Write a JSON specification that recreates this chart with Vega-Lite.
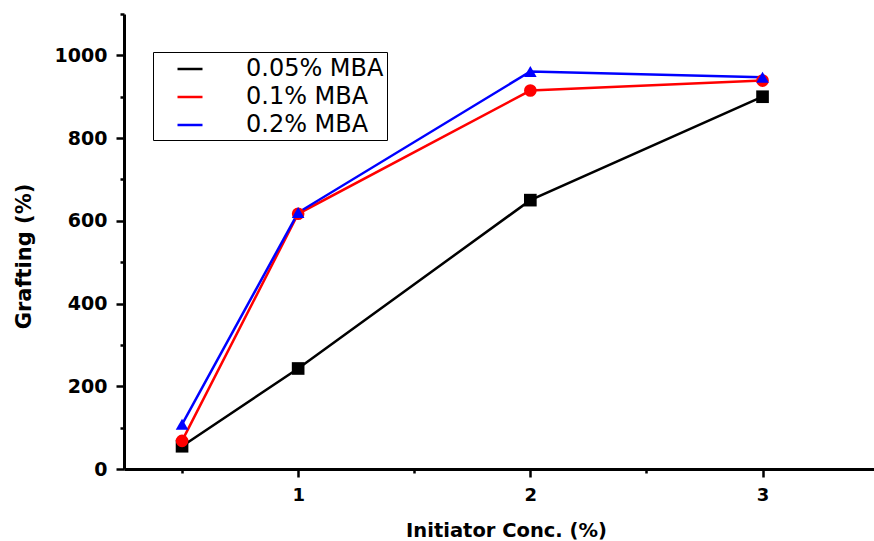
{
  "$schema": "https://vega.github.io/schema/vega-lite/v6.json",
  "width": 750,
  "height": 455,
  "autosize": {"type": "none"},
  "padding": {"left": 124, "top": 14, "right": 0, "bottom": 72},
  "background": "white",
  "config": {"view": {"stroke": null}, "font": "DejaVu Sans"},
  "data": {
    "values": [
      {"series": "0.05% MBA", "conc": 0.5, "grafting": 55},
      {"series": "0.05% MBA", "conc": 1, "grafting": 243},
      {"series": "0.05% MBA", "conc": 2, "grafting": 650},
      {"series": "0.05% MBA", "conc": 3, "grafting": 900},
      {"series": "0.1% MBA", "conc": 0.5, "grafting": 68},
      {"series": "0.1% MBA", "conc": 1, "grafting": 617},
      {"series": "0.1% MBA", "conc": 2, "grafting": 915},
      {"series": "0.1% MBA", "conc": 3, "grafting": 939},
      {"series": "0.2% MBA", "conc": 0.5, "grafting": 108},
      {"series": "0.2% MBA", "conc": 1, "grafting": 620},
      {"series": "0.2% MBA", "conc": 2, "grafting": 961},
      {"series": "0.2% MBA", "conc": 3, "grafting": 947}
    ]
  },
  "encoding": {
    "x": {
      "field": "conc",
      "type": "quantitative",
      "scale": {"domain": [0.25, 3.48], "nice": false, "zero": false},
      "axis": {
        "values": [0.5, 1, 1.5, 2, 2.5, 3],
        "labelExpr": "datum.value % 1 === 0 ? format(datum.value, 'd') : ''",
        "tickSize": {"condition": {"test": "datum.value % 1 === 0", "value": 8}, "value": 4},
        "tickWidth": 2.5,
        "tickColor": "black",
        "domainColor": "black",
        "domainWidth": 3,
        "grid": false,
        "labelFont": "DejaVu Sans",
        "labelFontWeight": "bold",
        "labelFontSize": 18,
        "labelColor": "black",
        "labelPadding": 9,
        "title": "Initiator Conc. (%)",
        "titleFont": "DejaVu Sans",
        "titleFontWeight": "bold",
        "titleFontSize": 19.5,
        "titleColor": "black",
        "titleX": 382,
        "titleY": 67,
        "titleAlign": "center",
        "titleBaseline": "alphabetic"
      }
    },
    "y": {
      "field": "grafting",
      "type": "quantitative",
      "scale": {"domain": [0, 1100], "nice": false},
      "axis": {
        "values": [0, 100, 200, 300, 400, 500, 600, 700, 800, 900, 1000, 1100],
        "labelExpr": "datum.value % 200 === 0 && datum.value <= 1000 ? format(datum.value, 'd') : ''",
        "tickSize": {"condition": {"test": "datum.value % 200 === 0 && datum.value <= 1000", "value": 8}, "value": 4},
        "tickWidth": 2.5,
        "tickColor": "black",
        "domainColor": "black",
        "domainWidth": 3,
        "grid": false,
        "labelFont": "DejaVu Sans",
        "labelFontWeight": "bold",
        "labelFontSize": 19,
        "labelColor": "black",
        "labelPadding": 9,
        "title": "Grafting (%)",
        "titleFont": "DejaVu Sans",
        "titleFontWeight": "bold",
        "titleFontSize": 21,
        "titleColor": "black",
        "titleX": -100,
        "titleY": 242,
        "titleAngle": -90,
        "titleAlign": "center",
        "titleBaseline": "middle"
      }
    }
  },
  "layer": [
    {
      "mark": {"type": "line", "strokeWidth": 2.5},
      "encoding": {
        "color": {
          "field": "series",
          "type": "nominal",
          "scale": {"domain": ["0.05% MBA", "0.1% MBA", "0.2% MBA"], "range": ["#000000", "#ff0000", "#0000ff"]},
          "legend": {
            "title": null, "orient": "none", "legendX": 29, "legendY": 38, "direction": "vertical",
            "strokeColor": "black", "fillColor": "white", "padding": 3,
            "symbolType": "stroke", "symbolSize": 625, "symbolStrokeWidth": 2.5, "symbolOffset": 20,
            "labelFont": "DejaVu Sans", "labelFontSize": 24, "labelColor": "black",
            "labelOffset": 42, "labelLimit": 300, "rowPadding": 2
          }
        }
      }
    },
    {
      "mark": {"type": "point", "filled": true, "opacity": 1, "size": 160},
      "encoding": {
        "color": {
          "field": "series",
          "type": "nominal",
          "scale": {"domain": ["0.05% MBA", "0.1% MBA", "0.2% MBA"], "range": ["#000000", "#ff0000", "#0000ff"]},
          "legend": null
        },
        "shape": {
          "field": "series",
          "type": "nominal",
          "scale": {"domain": ["0.05% MBA", "0.1% MBA", "0.2% MBA"], "range": ["square", "circle", "triangle-up"]},
          "legend": null
        }
      }
    }
  ],
  "resolve": {"scale": {"color": "independent", "shape": "independent"}}
}
